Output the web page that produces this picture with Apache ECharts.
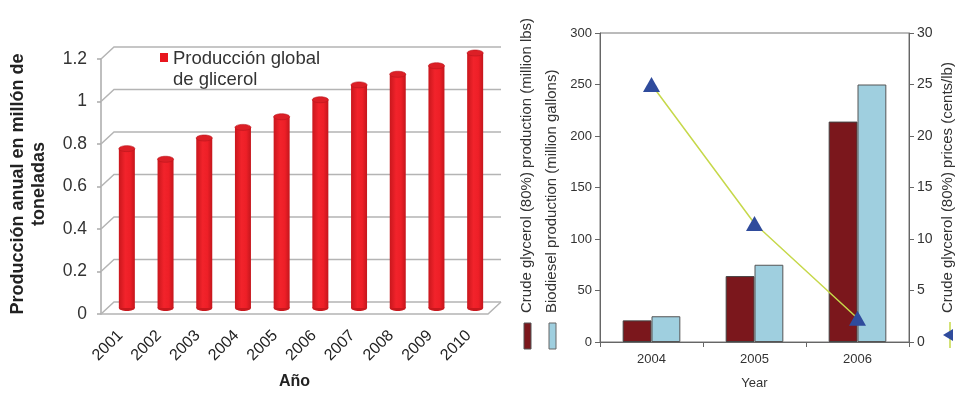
<!DOCTYPE html>
<html>
<head>
<meta charset="utf-8">
<script src="https://cdn.jsdelivr.net/npm/echarts@6/dist/echarts.min.js"></script>
<style>
  html, body { margin: 0; padding: 0; background: #fff; }
  #chart { width: 955px; height: 395px; }
</style>
</head>
<body>
<div id="chart"></div>
<script>
// Global glycerol production (left panel)
const years = ['2001', '2002', '2003', '2004', '2005', '2006', '2007', '2008', '2009', '2010'];
const glycerolProduction = [0.75, 0.70, 0.80, 0.85, 0.90, 0.98, 1.05, 1.10, 1.14, 1.20];
const productionTicks = [0, 0.2, 0.4, 0.6, 0.8, 1.0, 1.2];

// US biodiesel / crude glycerol (right panel)
const usYears = ['2004', '2005', '2006'];
const crudeGlycerol = [21, 64, 214];      // million lbs
const biodiesel = [25, 75, 250];          // million gallons
const glycerolPrice = [25, 11.5, 2.3];    // cents/lb

const FONT = 'Liberation Sans, Arial, sans-serif';
// depth offset of the pseudo-3D box (back wall relative to front plane)
const DX = 13, DY = -12;

const chart = echarts.init(document.getElementById('chart'), null, { renderer: 'canvas' });

const cylFill = new echarts.graphic.LinearGradient(0, 0, 1, 0, [
  { offset: 0, color: '#c9171d' },
  { offset: 0.4, color: '#f2232b' },
  { offset: 0.7, color: '#ee1f27' },
  { offset: 1, color: '#c4161c' }
]);

function renderWalls(params, api) {
  const cs = params.coordSys;
  const y = api.coord([0, api.value(1)])[1];
  const x0 = cs.x, x1 = cs.x + cs.width;
  const children = [{
    type: 'polyline',
    shape: { points: [[x0, y], [x0 + DX, y + DY], [x1 + DX, y + DY]] },
    style: { stroke: '#b4b4b4', lineWidth: 1.5, fill: null }
  }];
  if (api.value(1) === 0) {
    children.push({
      type: 'polyline',
      shape: { points: [[x0, y], [x1, y], [x1 + DX, y + DY]] },
      style: { stroke: '#b4b4b4', lineWidth: 1.5, fill: null }
    });
  }
  return { type: 'group', children };
}

function renderCylinder(params, api) {
  const i = api.value(0), v = api.value(1);
  const base = api.coord([i, 0]);
  const top = api.coord([i, v]);
  const cx = base[0] + DX / 2;
  const yb = base[1] + DY / 2;
  const yt = top[1] + DY / 2;
  const rx = 8, ry = 3;
  return {
    type: 'group',
    children: [
      { type: 'ellipse', shape: { cx: cx, cy: yb, rx: rx, ry: ry }, style: { fill: '#c8171d' } },
      { type: 'rect', shape: { x: cx - rx, y: yt, width: rx * 2, height: yb - yt }, style: { fill: cylFill } },
      { type: 'ellipse', shape: { cx: cx, cy: yt, rx: rx, ry: ry }, style: { fill: '#dc1f26', stroke: '#b8161c', lineWidth: 0.6 } }
    ]
  };
}

const option = {
  animation: false,
  textStyle: { fontFamily: FONT },
  grid: [
    { left: 101, top: 59, width: 387, height: 261 },
    { left: 600, top: 33, width: 309, height: 312, show: true, borderColor: '#777', borderWidth: 1 }
  ],
  xAxis: [
    {
      gridIndex: 0, type: 'category', data: years,
      axisLine: { show: false }, axisTick: { show: false },
      axisLabel: { rotate: 45, fontSize: 16, color: '#222', margin: 19, fontFamily: FONT },
      name: 'Año', nameLocation: 'middle', nameGap: 60,
      nameTextStyle: { fontSize: 16, fontWeight: 'bold', color: '#222', fontFamily: FONT }
    },
    {
      gridIndex: 1, type: 'category', data: usYears,
      axisLine: { lineStyle: { color: '#666', width: 1 } },
      axisTick: { show: true, length: 5, lineStyle: { color: '#666' } },
      axisLabel: { fontSize: 13, color: '#333', margin: 11, fontFamily: FONT },
      name: 'Year', nameLocation: 'middle', nameGap: 35,
      nameTextStyle: { fontSize: 13, color: '#333', fontFamily: FONT }
    }
  ],
  yAxis: [
    {
      gridIndex: 0, type: 'value', min: 0, max: 1.2, interval: 0.2,
      axisLine: { show: true, lineStyle: { color: '#aaa', width: 1.5 } },
      axisTick: { show: true, length: 4, lineStyle: { color: '#aaa', width: 1.5 } },
      axisLabel: { fontSize: 17.5, color: '#333', margin: 14, fontFamily: FONT },
      splitLine: { show: false }
    },
    {
      gridIndex: 1, type: 'value', min: 0, max: 300, interval: 50,
      axisLine: { show: true, lineStyle: { color: '#666' } },
      axisTick: { show: true, length: 5, lineStyle: { color: '#666' } },
      axisLabel: { fontSize: 13, color: '#333', margin: 8, fontFamily: FONT },
      splitLine: { show: false }
    },
    {
      gridIndex: 1, type: 'value', min: 0, max: 30, interval: 5, position: 'right',
      axisLine: { show: true, lineStyle: { color: '#666' } },
      axisTick: { show: true, length: 5, lineStyle: { color: '#666' } },
      axisLabel: { fontSize: 14, color: '#333', margin: 8, fontFamily: FONT },
      splitLine: { show: false }
    }
  ],
  series: [
    {
      type: 'custom', xAxisIndex: 0, yAxisIndex: 0, silent: true,
      data: productionTicks.map(v => [0, v]),
      renderItem: renderWalls, z: 1
    },
    {
      type: 'custom', name: 'Producción global de glicerol', xAxisIndex: 0, yAxisIndex: 0,
      data: glycerolProduction.map((v, i) => [i, v]),
      renderItem: renderCylinder, z: 2
    },
    {
      type: 'bar', name: 'Crude glycerol (80%) production (million lbs)',
      xAxisIndex: 1, yAxisIndex: 1, data: crudeGlycerol,
      barGap: '0%', barCategoryGap: '44%',
      itemStyle: { color: '#7b171c', borderColor: '#444', borderWidth: 1 }
    },
    {
      type: 'bar', name: 'Biodiesel production (million gallons)',
      xAxisIndex: 1, yAxisIndex: 1, data: biodiesel,
      barGap: '0%', barCategoryGap: '44%',
      itemStyle: { color: '#9fcfdf', borderColor: '#555', borderWidth: 1 }
    },
    {
      type: 'line', name: 'Crude glycerol (80%) prices (cents/lb)',
      xAxisIndex: 1, yAxisIndex: 2, data: glycerolPrice,
      symbol: 'triangle', symbolSize: [17, 15],
      itemStyle: { color: '#2f4b9c' },
      lineStyle: { color: '#c6d84a', width: 1.5 }, z: 5
    }
  ],
  graphic: [
    // left panel: axis title and legend
    {
      type: 'text', x: 29, y: 184, rotation: Math.PI / 2,
      style: {
        text: 'Producción anual en millón de\ntoneladas', fill: '#222',
        font: 'bold 18px ' + FONT, textAlign: 'center', textVerticalAlign: 'middle', lineHeight: 21
      }
    },
    { type: 'rect', shape: { x: 160, y: 53, width: 8, height: 9 }, style: { fill: '#e8161e' } },
    {
      type: 'text', x: 173, y: 48,
      style: { text: 'Producción global\nde glicerol', fill: '#333', font: '18.5px ' + FONT, lineHeight: 21 }
    },
    // right panel: rotated axis titles with their swatches
    {
      type: 'text', x: 527, y: 313, rotation: Math.PI / 2,
      style: { text: 'Crude glycerol (80%) production (million lbs)', fill: '#333', font: '15px ' + FONT, textAlign: 'left', textVerticalAlign: 'middle' }
    },
    {
      type: 'text', x: 552, y: 313, rotation: Math.PI / 2,
      style: { text: 'Biodiesel production (million gallons)', fill: '#333', font: '15px ' + FONT, textAlign: 'left', textVerticalAlign: 'middle' }
    },
    { type: 'rect', shape: { x: 524, y: 323, width: 7, height: 26 }, style: { fill: '#7b171c', stroke: '#555', lineWidth: 1 } },
    { type: 'rect', shape: { x: 549, y: 323, width: 7, height: 26 }, style: { fill: '#9fcfdf', stroke: '#666', lineWidth: 1 } },
    {
      type: 'text', x: 948, y: 313, rotation: Math.PI / 2,
      style: { text: 'Crude glycerol (80%) prices (cents/lb)', fill: '#333', font: '15px ' + FONT, textAlign: 'left', textVerticalAlign: 'middle' }
    },
    { type: 'line', shape: { x1: 950, y1: 322, x2: 950, y2: 348 }, style: { stroke: '#c6d84a', lineWidth: 1.5 } },
    { type: 'polygon', shape: { points: [[943, 335], [953, 329], [953, 341]] }, style: { fill: '#2f4b9c' } }
  ]
};

chart.setOption(option);
</script>
</body>
</html>
